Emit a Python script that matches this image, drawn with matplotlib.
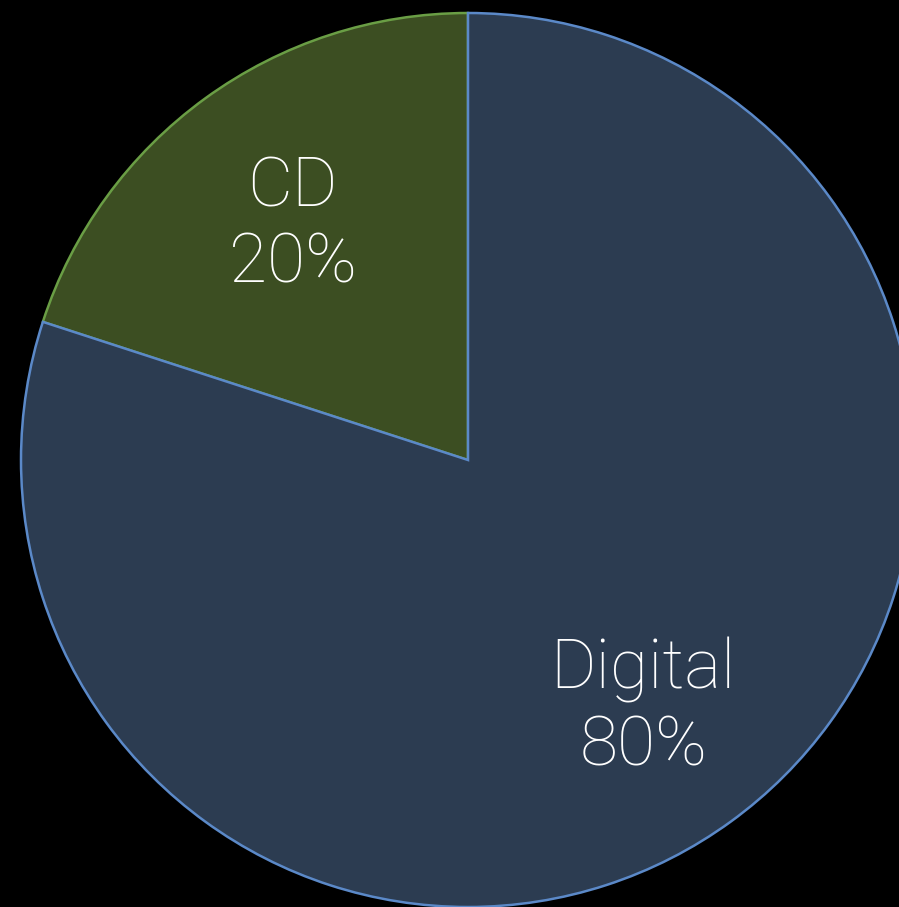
import matplotlib
matplotlib.use("Agg")
import matplotlib.pyplot as plt
from matplotlib.transforms import offset_copy

# Share of sales by format
categories = ["CD", "Digital"]
shares = [20, 80]

fill_colors = ["#3c4e22", "#2c3c51"]
edge_colors = ["#6a9e45", "#5b89c8"]

W, H = 899, 907
fig = plt.figure(figsize=(W / 100, H / 100), dpi=100, facecolor="black")
ax = fig.add_axes([0, 0, 1, 1])
ax.set_facecolor("black")

labels = [f"{c}\n{v}%" for c, v in zip(categories, shares)]
wedges, texts = ax.pie(
    shares,
    labels=labels,
    colors=fill_colors,
    startangle=90,
    counterclock=True,
    center=(468, H - 460),
    radius=447,
    labeldistance=0.667,
    frame=True,
    wedgeprops=dict(linewidth=1.8),
    textprops=dict(color="white", fontsize=50, family=["Roboto", "DejaVu Sans"],
                   fontweight="light", linespacing=1.21),
)
for w, ec in zip(wedges, edge_colors):
    w.set_edgecolor(ec)
for t in texts:
    t.set_ha("center")
    t.set_va("center")
    t.set_transform(offset_copy(ax.transData, fig=fig, x=0, y=-7, units="dots"))

ax.set_xlim(0, W)
ax.set_ylim(0, H)
ax.set_aspect("auto")
ax.axis("off")

fig.savefig("out.png", dpi=100, facecolor="black")
